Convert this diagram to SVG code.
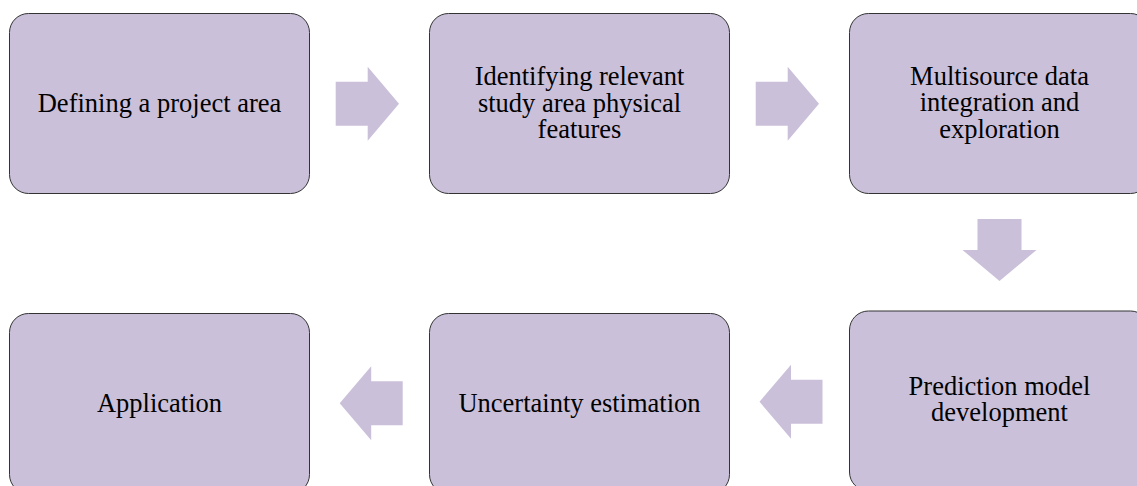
<svg xmlns="http://www.w3.org/2000/svg" width="1137" height="486" viewBox="0 0 1137 486">
<style>
.box{fill:#CBC0DA;stroke:#333;stroke-width:1}
.arr{fill:#CBC0DA;stroke:none}
.lbl{font-family:"Liberation Serif","Times New Roman",serif;font-size:26.5px;fill:#000;text-anchor:middle}
</style>
<rect width="1137" height="486" fill="#fff"/>
<g id="connectors">
<polygon class="arr" points="335.7,81.7 367.7,81.7 367.7,66.7 399,103.7 367.7,140.7 367.7,125.7 335.7,125.7"/>
<polygon class="arr" points="755.7,81.7 787.7,81.7 787.7,66.7 819,103.7 787.7,140.7 787.7,125.7 755.7,125.7"/>
<polygon class="arr" points="977.5,219 1021.5,219 1021.5,250 1036.5,250 999.5,281 962.5,250 977.5,250"/>
<polygon class="arr" points="822.5,379.7 791,379.7 791,364.7 759.5,401.7 791,438.7 791,423.7 822.5,423.7"/>
<polygon class="arr" points="402.7,381.3 371.2,381.3 371.2,366.3 339.7,403.3 371.2,440.3 371.2,425.3 402.7,425.3"/>
</g>
<g id="n1">
<rect class="box" x="9.5" y="13.5" width="300" height="180" rx="19"/>
<text class="lbl" x="159.5" y="111.5">Defining a project area</text>
</g>
<g id="n2">
<rect class="box" x="429.5" y="13.5" width="300" height="180" rx="19"/>
<text class="lbl" x="579.5" y="85">Identifying relevant<tspan x="579.5" dy="26.5">study area physical</tspan><tspan x="579.5" dy="26.5">features</tspan></text>
</g>
<g id="n3">
<rect class="box" x="849.5" y="13.5" width="300" height="180" rx="19"/>
<text class="lbl" x="999.5" y="84.5">Multisource data<tspan x="999.5" dy="26.7">integration and</tspan><tspan x="999.5" dy="26.8">exploration</tspan></text>
</g>
<g id="n4">
<rect class="box" x="849.5" y="311" width="300" height="180" rx="19"/>
<text class="lbl" x="999.5" y="394.5">Prediction model<tspan x="999.5" dy="26.5">development</tspan></text>
</g>
<g id="n5">
<rect class="box" x="429.5" y="313.5" width="300" height="180" rx="19"/>
<text class="lbl" x="579.5" y="411.5">Uncertainty estimation</text>
</g>
<g id="n6">
<rect class="box" x="9.5" y="313.5" width="300" height="180" rx="19"/>
<text class="lbl" x="159.5" y="411.5">Application</text>
</g>
</svg>
